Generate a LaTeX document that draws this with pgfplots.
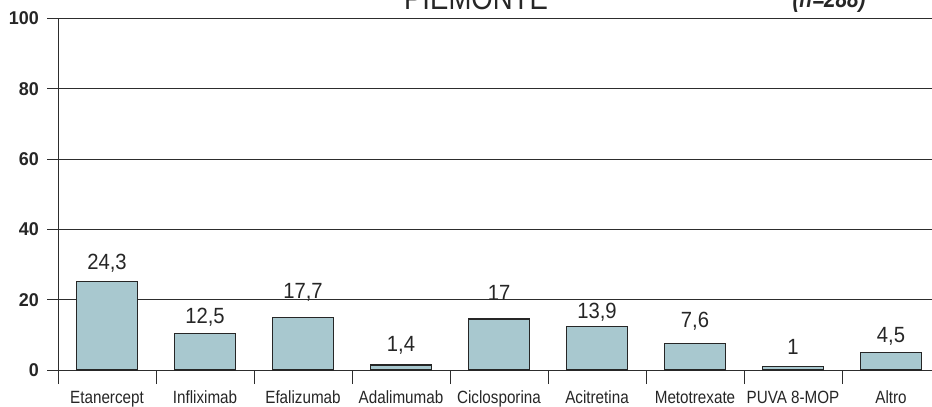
\documentclass[border=0pt]{standalone}
\usepackage{fontspec}
\setmainfont{Liberation Sans}[FakeStretch=0.86]
\newfontfamily\valfont{Liberation Sans}[FakeStretch=0.92]
\newfontfamily\tickfont{Liberation Sans}[FakeStretch=0.97]
\usepackage{pgfplots}
\pgfplotsset{compat=1.18}
\usepackage{pgfplotstable}
\definecolor{barfill}{RGB}{168,200,207}
\definecolor{gridc}{RGB}{45,45,45}
\pgfplotstableread{
x h
0 25.2
1 10.4
2 14.9
3 1.4
4 14.5
5 12.4
6 7.6
7 1.1
8 4.9
}\bars
\pgfplotstableread{
x y lab
0 28.6 24,3
1 13.3 12,5
2 20.4 17,7
3 5.2 1,4
4 19.6 17
5 14.7 13,9
6 11.9 7,6
7 4.3 1
8 7.8 4,5
}\labels
\begin{document}
\begin{tikzpicture}[x=1bp,y=1bp]
\path[use as bounding box,clip] (0,0) rectangle (932,406);
\begin{axis}[
  at={(58bp,36bp)}, anchor=south west,
  scale only axis, width=882bp, height=351.5bp,
  xmin=-0.5, xmax=8.5, ymin=0, ymax=100,
  axis x line*=bottom, axis y line*=left,
  axis line style={gridc, line width=1bp, -},
  clip=false,
  xtick={0,...,8},
  xticklabels={Etanercept,Infliximab,Efalizumab,Adalimumab,Ciclosporina,Acitretina,Metotrexate,PUVA 8-MOP,Altro},
  x tick style={draw=none},
  extra x ticks={-0.5,0.5,1.5,2.5,3.5,4.5,5.5,6.5,7.5,8.5},
  extra x tick labels={},
  extra x tick style={tick align=outside, major tick length=14bp, x tick style={draw=gridc, line width=1bp}, grid=none},
  xticklabel style={anchor=base, inner sep=0pt, yshift=-22bp, font=\fontsize{17.7bp}{20bp}\selectfont, text=black!85},
  ytick={0,20,40,60,80,100},
  ymajorgrids,
  grid style={gridc, line width=1bp},
  tick align=outside,
  y tick style={gridc, line width=1bp},
  major tick length=11bp,
  yticklabel style={anchor=east, inner sep=0pt, xshift=-8bp, font=\tickfont\bfseries\fontsize{18.5bp}{20bp}\selectfont, text=black!85},
  /pgf/number format/assume math mode=true,
]
\addplot[ybar, bar width=61bp, fill=barfill, draw=black!85, line width=1.2bp] table[x=x,y=h] {\bars};
\addplot[only marks, mark=*, mark size=0pt, mark options={draw opacity=0, fill opacity=0},
  nodes near coords, point meta=explicit symbolic,
  every node near coord/.append style={inner sep=0pt, text depth=0pt, text opacity=1, fill opacity=1, draw opacity=1, font=\valfont\fontsize{22bp}{24bp}\selectfont, text=black!85}]
  table[x=x,y=y,meta=lab] {\labels};
\end{axis}
\node[anchor=base, inner sep=0pt, font=\fontsize{32bp}{34bp}\selectfont, text=black!85] at (476,396) {PIEMONTE};
\node[anchor=base, inner sep=0pt, font=\bfseries\itshape\fontsize{24bp}{26bp}\selectfont, text=black!85] at (829,398) {(n=288)};
\end{tikzpicture}
\end{document}
